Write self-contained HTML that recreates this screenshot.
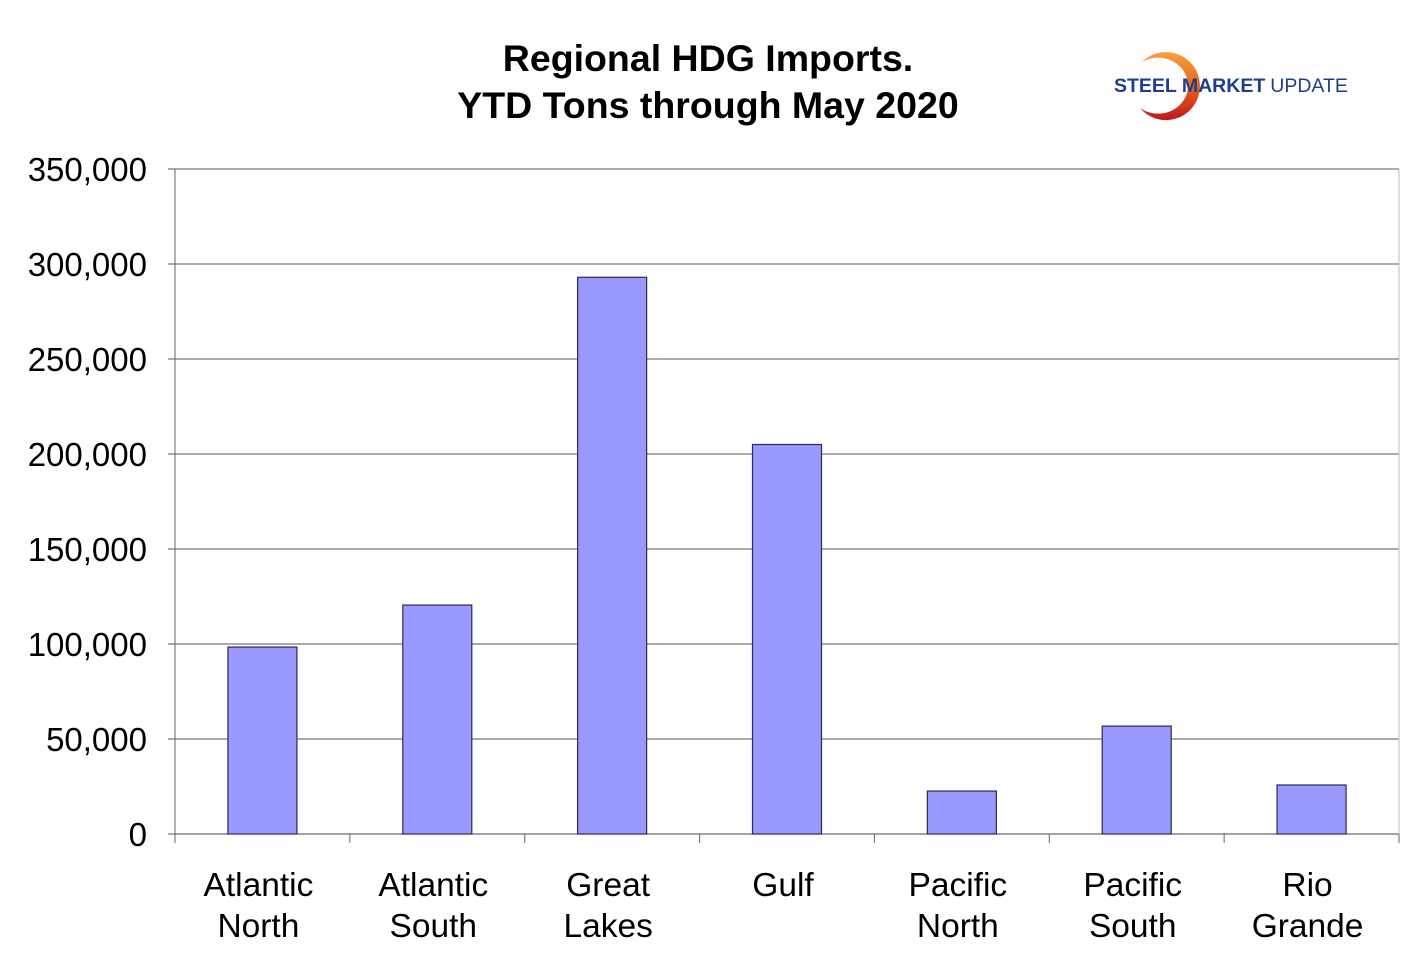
<!DOCTYPE html>
<html><head><meta charset="utf-8">
<style>
html,body{margin:0;padding:0;background:#fff;}
body{width:1420px;height:973px;overflow:hidden;font-family:"Liberation Sans",Arial,sans-serif;}
</style></head>
<body>
<svg id="chart" width="1420" height="973" xmlns="http://www.w3.org/2000/svg">
  <text x="708" y="71" text-anchor="middle" font-family="Liberation Sans, Arial, sans-serif" font-weight="bold" font-size="37.5">Regional HDG Imports.</text>
  <text x="708" y="118" text-anchor="middle" font-family="Liberation Sans, Arial, sans-serif" font-weight="bold" font-size="37.5">YTD Tons through May 2020</text>
  <g>
    <defs>
      <linearGradient id="arcg" x1="0" y1="0" x2="0" y2="1">
        <stop offset="0" stop-color="#f7a23a"/><stop offset="0.5" stop-color="#e8641e"/><stop offset="1" stop-color="#c0171c"/>
      </linearGradient>
    </defs>
    <path d="M1142,62 A34,34 0 1 1 1140,108 A30,28 0 1 0 1142,62 Z" fill="url(#arcg)"/>
    <text x="1114" y="92" font-family="Liberation Sans, Arial, sans-serif" font-size="19.5" fill="#1f3d8a"><tspan font-weight="bold">STEEL</tspan><tspan dx="5" font-weight="bold">MARKET</tspan><tspan dx="5">UPDATE</tspan></text>
  </g>
  <g id="grid"></g>
  <g id="bars"></g>
  <g id="axes"></g>
</svg>
<script>
const categories = [["Atlantic","North"],["Atlantic","South"],["Great","Lakes"],["Gulf"],["Pacific","North"],["Pacific","South"],["Rio","Grande"]];
const values = [98400, 120500, 293000, 205000, 22600, 56800, 25800];
const yTicks = [0,50000,100000,150000,200000,250000,300000,350000];
const yTickLabels = ["0","50,000","100,000","150,000","200,000","250,000","300,000","350,000"];

const NS="http://www.w3.org/2000/svg";
const X0=175, X1=1399, Y0=834, Y1=169, YMAX=350000;
const band=(X1-X0)/categories.length;
const y=v=>Y0-(v/YMAX)*(Y0-Y1);
const xc=i=>X0+band*(i+0.5);
function mk(tag,attrs,parent){const e=document.createElementNS(NS,tag);for(const k in attrs)e.setAttribute(k,attrs[k]);parent.appendChild(e);return e;}
const grid=document.getElementById('grid'), bars=document.getElementById('bars'), axes=document.getElementById('axes');

yTicks.forEach((t,i)=>{
  const ln=mk('line',{x1:X0,x2:X1,y1:y(t),y2:y(t),stroke:t===0?'#444':'#555','stroke-width':1},grid);
  
  
  const tk=mk('line',{x1:X0-7,x2:X0,y1:y(t),y2:y(t),stroke:'#555'},axes);
  
  
  const tx=mk('text',{x:147,y:y(t)+12,'text-anchor':'end','font-size':33,'font-family':'Liberation Sans, Arial, sans-serif'},axes);
  tx.textContent=yTickLabels[i];
  
  
});
mk('line',{x1:X1,x2:X1,y1:Y1,y2:Y0,stroke:'#bbb'},grid);
const ya=mk('line',{x1:X0,x2:X0,y1:Y1,y2:Y0+9,stroke:'#666'},axes);


for(let i=1;i<=categories.length;i++){
  const t=mk('line',{x1:X0+band*i,x2:X0+band*i,y1:Y0,y2:Y0+9,stroke:'#666'},axes);
  
  
}
values.forEach((v,i)=>{
  const r=mk('rect',{x:xc(i)-34.5,y:y(v),width:69,height:Y0-y(v),fill:'#9999ff',stroke:'#2a2a50','stroke-width':1.2},bars);
  
  
  const tx=mk('text',{x:xc(i)-4,y:896,'text-anchor':'middle','font-size':33.5,'font-family':'Liberation Sans, Arial, sans-serif'},axes);
  
  
  categories[i].forEach((w,j)=>{const s=mk('tspan',{x:xc(i)-4,dy:j?41:0},tx);s.textContent=w;});
});
</script>
</body></html>
